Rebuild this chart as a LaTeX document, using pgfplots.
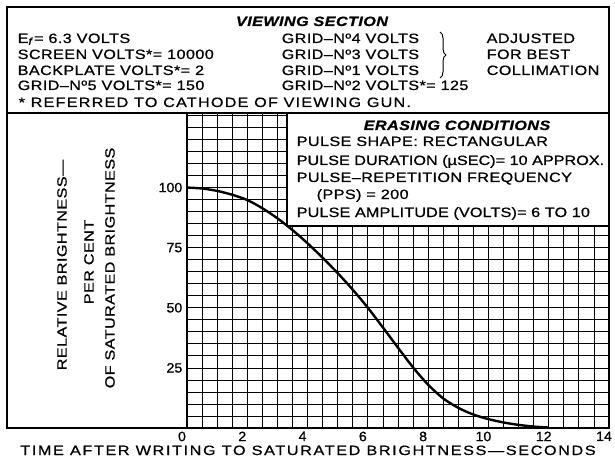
\documentclass[border=0pt]{standalone}
\usepackage{fontspec}
\setmainfont{Liberation Sans}[FakeStretch=1.2, LetterSpace=3, FakeBold=0.8]
\newfontfamily\tickfont{Liberation Sans}[FakeStretch=1.05, FakeBold=0.8]
\usepackage{pgfplots}
\pgfplotsset{compat=1.18}
\usetikzlibrary{decorations.pathreplacing}

\begin{document}
\fontsize{13.5}{16}\selectfont
\begin{tikzpicture}[x=1pt,y=1pt]
\path[use as bounding box] (-187,-33) rectangle (428,428);
\begin{axis}[at={(0pt,0pt)}, anchor=south west,
  width=422pt, height=315pt, scale only axis,
  xmin=0, xmax=14, ymin=0, ymax=131,
  xtick={0,2,...,14}, ytick={25,50,75,100},
  minor xtick={0,0.5,...,14}, minor ytick={0,5,...,130},
  grid=both,
  major grid style={black, line width=0.75pt},
  minor grid style={black, line width=0.75pt},
  major tick length=0pt, minor tick length=0pt,
  axis line style={black, line width=1.2pt},
  tick label style={font=\tickfont\fontsize{13.5}{13.5}\selectfont},
  xticklabel style={xshift=-5pt, yshift=1pt},
  /pgf/number format/assume math mode=true,
  clip=false]
\addplot[black, line width=2.4pt, smooth] coordinates {
(0,100) (0.5,99.6) (1,98.6) (1.5,97.0) (2,94.8) (2.5,91.4) (3,87.2) (3.5,82.3)
(4,76.8) (4.5,70.8) (5,64.4) (5.5,57.5) (6,50.0) (6.5,41.8) (7,33.4) (7.5,25.2)
(8,18.0) (8.5,12.3) (9,8.4) (9.5,5.6) (10,3.7) (10.5,2.3) (11,1.3) (11.5,0.6) (12,0.2)};
\draw[fill=white, line width=1.2pt] (axis cs:3.32,84) rectangle (axis cs:14,131);
\end{axis}
% frames
\draw[line width=1.2pt] (-180,315) rectangle (422,421);
\draw[line width=1.2pt] (-180,315) -- (-180,0) -- (0,0);
% header
\node[anchor=base, font=\bfseries\itshape] at (125,402) {VIEWING SECTION};
\node[anchor=base west] at (-174,385) {E\raisebox{-0.25ex}{\fontsize{10}{10}\selectfont\itshape f}\,= 6.3 VOLTS};
\node[anchor=base west] at (-174,369) {SCREEN VOLTS*= 10000};
\node[anchor=base west] at (-174,353) {BACKPLATE VOLTS*= 2};
\node[anchor=base west] at (-174,338) {GRID–Nº5 VOLTS*= 150};
\node[anchor=base west] at (-173,321) {\addfontfeature{LetterSpace=9}* REFERRED TO CATHODE OF VIEWING GUN.};
\node[anchor=base west] at (90,385) {GRID–Nº4 VOLTS};
\node[anchor=base west] at (90,369) {GRID–Nº3 VOLTS};
\node[anchor=base west] at (90,353) {GRID–Nº1 VOLTS};
\node[anchor=base west] at (90,338) {GRID–Nº2 VOLTS*= 125};
\draw[line width=1pt, decorate, decoration={brace, amplitude=6pt}] (253,396) -- (253,350);
\node[anchor=base west] at (295,385) {ADJUSTED};
\node[anchor=base west] at (295,369) {FOR BEST};
\node[anchor=base west] at (295,353) {COLLIMATION};
% erasing conditions
\node[anchor=base, font=\bfseries\itshape] at (270,298) {ERASING CONDITIONS};
\node[anchor=base west] at (105,282) {PULSE SHAPE: RECTANGULAR};
\node[anchor=base west] at (105,263) {\addfontfeature{LetterSpace=0}PULSE DURATION (µSEC)= 10 APPROX.};
\node[anchor=base west] at (105,246) {PULSE–REPETITION FREQUENCY};
\node[anchor=base west] at (125,229) {(PPS) = 200};
\node[anchor=base west] at (105,211) {\addfontfeature{LetterSpace=1}PULSE AMPLITUDE (VOLTS)= 6 TO 10};
% axis labels
\node[rotate=90] at (-125,163) {RELATIVE BRIGHTNESS—};
\node[rotate=90] at (-98,166) {PER CENT};
\node[rotate=90] at (-77,160) {OF SATURATED BRIGHTNESS};
\node[anchor=base] at (121,-27) {\addfontfeature{LetterSpace=12}TIME AFTER WRITING TO SATURATED BRIGHTNESS—SECONDS};
\end{tikzpicture}
\end{document}
